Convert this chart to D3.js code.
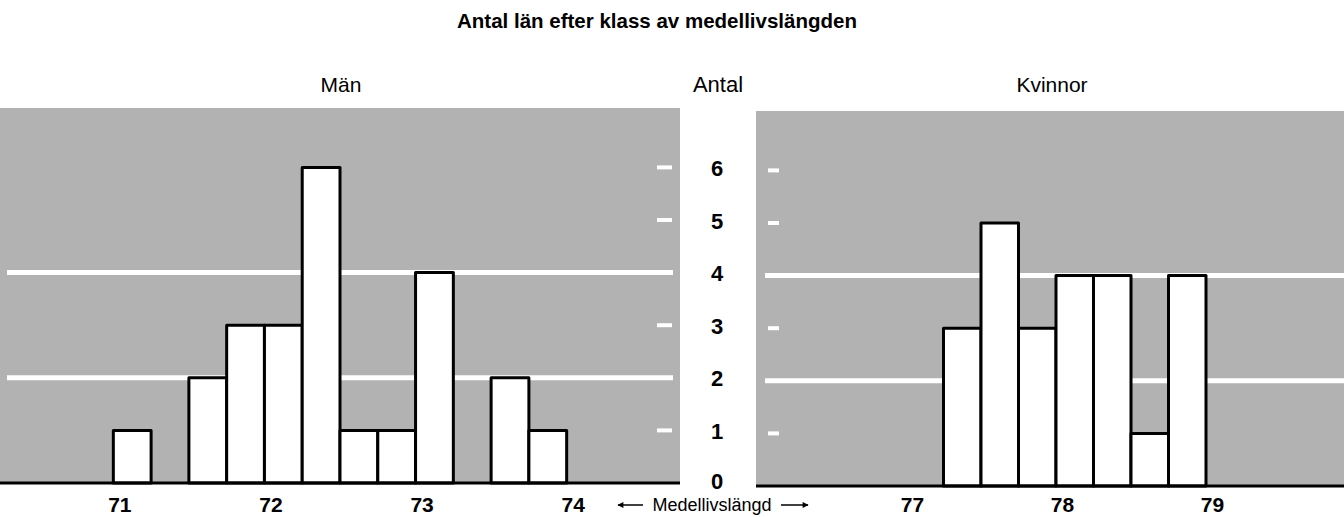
<!DOCTYPE html>
<html>
<head>
<meta charset="utf-8">
<script src="https://cdn.jsdelivr.net/npm/d3@7/dist/d3.min.js"></script>
<style>
  html, body { margin: 0; padding: 0; background: #ffffff; }
  svg { display: block; font-family: "Liberation Sans", Arial, Helvetica, sans-serif; }
</style>
</head>
<body>
<svg id="chart" width="1344" height="517"></svg>
<script>
// ---- Data ----
const title = "Antal län efter klass av medellivslängden";
const menLabel = "Män";
const womenLabel = "Kvinnor";
const countLabel = "Antal";
const xAxisLabel = "Medellivslängd";

const classWidth = 0.25;
const menClassStart = [71.0, 71.5, 71.75, 72.0, 72.25, 72.5, 72.75, 73.0, 73.5, 73.75];
const menCounts     = [1,    2,    3,     3,    6,     1,    1,     4,    2,    1];
const womenClassStart = [77.25, 77.5, 77.75, 78.0, 78.25, 78.5, 78.75];
const womenCounts     = [3,     5,    3,     4,    4,     1,    4];

const menTicks = [71, 72, 73, 74];
const womenTicks = [77, 78, 79];
const countTicks = [0, 1, 2, 3, 4, 5, 6];
const gridValues = [2, 4];
const dashValues = [1, 3, 5, 6];

// ---- Layout ----
const svg = d3.select("#chart");
const defs = svg.append("defs");

const unit = 52.6;
const yMax = 7.13;

const panels = [
  { name: menLabel, starts: menClassStart, counts: menCounts, ticks: menTicks,
    x: d3.scaleLinear().domain([70.25, 74.75]).range([0, 680]),
    base: 483, gridFrom: 7, gridTo: 673, dashFrom: 657, dashTo: 672, titleX: 341 },
  { name: womenLabel, starts: womenClassStart, counts: womenCounts, ticks: womenTicks,
    x: d3.scaleLinear().domain([76, 80]).range([756, 1356]),
    base: 486, gridFrom: 765, gridTo: 1344, dashFrom: 768, dashTo: 779, titleX: 1052 }
];

panels.forEach(p => {
  const y = d3.scaleLinear().domain([0, yMax]).range([p.base, p.base - unit * yMax]);
  p.y = y;
  const g = svg.append("g");
  const [x0, x1] = p.x.range();
  // shaded (halftone-like) background
  g.append("rect")
    .attr("x", x0).attr("y", y(yMax))
    .attr("width", x1 - x0).attr("height", y(0) - y(yMax))
    .attr("fill", "#b2b2b2");
  // white grid lines
  g.selectAll("line.grid").data(gridValues).join("line")
    .attr("class", "grid")
    .attr("x1", p.gridFrom).attr("x2", p.gridTo)
    .attr("y1", d => y(d)).attr("y2", d => y(d))
    .attr("stroke", "#ffffff").attr("stroke-width", 5);
  // small white tick dashes
  g.selectAll("line.dash").data(dashValues).join("line")
    .attr("class", "dash")
    .attr("x1", p.dashFrom).attr("x2", p.dashTo)
    .attr("y1", d => y(d)).attr("y2", d => y(d))
    .attr("stroke", "#ffffff").attr("stroke-width", 4);
  // bars
  const data = p.starts.map((s, i) => ({ s, v: p.counts[i] }));
  g.selectAll("rect.bar").data(data).join("rect")
    .attr("class", "bar")
    .attr("x", d => p.x(d.s))
    .attr("y", d => y(d.v))
    .attr("width", d => p.x(d.s + classWidth) - p.x(d.s))
    .attr("height", d => y(0) - y(d.v))
    .attr("fill", "#ffffff").attr("stroke", "#000000").attr("stroke-width", 3)
    .attr("stroke-linejoin", "round");
  // baseline
  g.append("line")
    .attr("x1", x0).attr("x2", Math.min(x1, 1344))
    .attr("y1", y(0)).attr("y2", y(0))
    .attr("stroke", "#000000").attr("stroke-width", 3);
  // x axis tick labels
  const ax = svg.append("g")
    .attr("transform", `translate(6, 512)`)
    .call(d3.axisBottom(p.x).tickValues(p.ticks).tickSize(0).tickPadding(0).tickFormat(d3.format("d")));
  ax.select(".domain").remove();
  ax.selectAll("text")
    .attr("y", 0).attr("dy", 0)
    .attr("font-size", 21).attr("font-weight", "bold")
    .attr("font-family", "Liberation Sans, Arial, sans-serif")
    .attr("fill", "#000");
  // panel title
  svg.append("text")
    .attr("x", p.titleX).attr("y", 92)
    .attr("text-anchor", "middle")
    .attr("font-size", 21).attr("fill", "#000")
    .text(p.name);
});

// central count axis
const yLeft = panels[0].y;
const cAx = svg.append("g")
  .attr("transform", "translate(717, 0)")
  .call(d3.axisRight(yLeft).tickValues(countTicks).tickSize(0).tickPadding(0).tickFormat(d3.format("d")));
cAx.select(".domain").remove();
cAx.selectAll("text")
  .attr("x", 0).attr("dy", 0)
  .attr("text-anchor", "middle")
  .attr("dominant-baseline", "auto")
  .attr("y", d => d === 0 ? 5 : 8)
  .attr("font-size", 22).attr("font-weight", "bold")
  .attr("font-family", "Liberation Sans, Arial, sans-serif")
  .attr("fill", "#000");

svg.append("text")
  .attr("x", 718).attr("y", 92)
  .attr("text-anchor", "middle")
  .attr("font-size", 22).attr("fill", "#000")
  .text(countLabel);

// title
svg.append("text")
  .attr("x", 657).attr("y", 28)
  .attr("text-anchor", "middle")
  .attr("font-size", 20.5).attr("font-weight", "bold").attr("fill", "#000")
  .text(title);

// x axis label with arrows
svg.append("text")
  .attr("x", 712).attr("y", 511)
  .attr("text-anchor", "middle")
  .attr("font-size", 18).attr("fill", "#000")
  .text(xAxisLabel);
defs.append("marker")
  .attr("id", "arrow").attr("viewBox", "0 0 10 10")
  .attr("refX", 9).attr("refY", 5)
  .attr("markerWidth", 10).attr("markerHeight", 6)
  .attr("markerUnits", "userSpaceOnUse")
  .attr("orient", "auto")
  .append("path").attr("d", "M0,0 L10,5 L0,10 Z").attr("fill", "#000");
[[643, 618], [781, 808]].forEach(([a, b]) => {
  svg.append("line")
    .attr("x1", a).attr("x2", b).attr("y1", 505).attr("y2", 505)
    .attr("stroke", "#000").attr("stroke-width", 1.5)
    .attr("marker-end", "url(#arrow)");
});
</script>
</body>
</html>
